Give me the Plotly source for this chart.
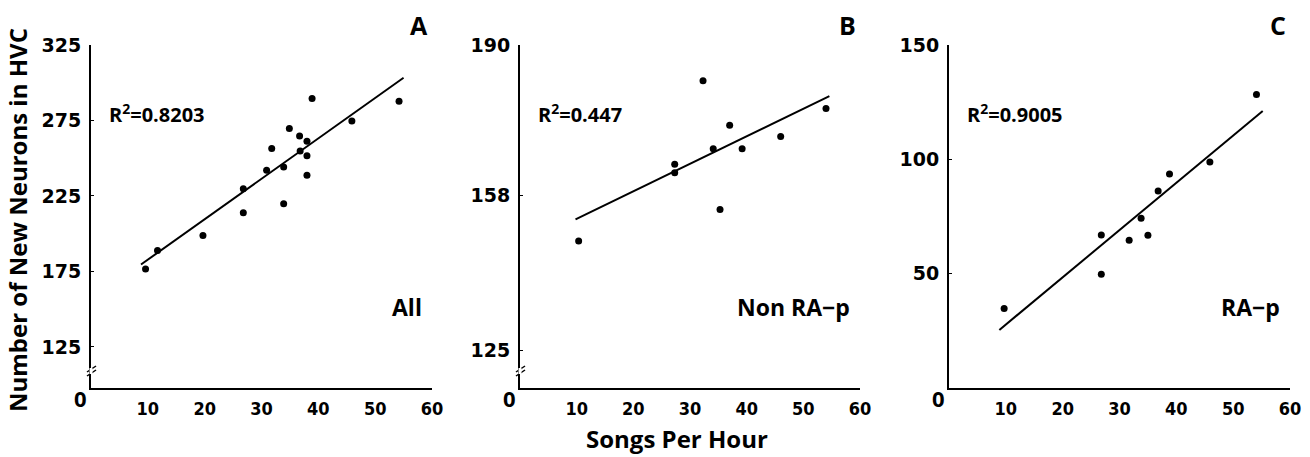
import plotly.graph_objects as go

W, H = 1310, 457

# ---------------- data ----------------
songs_all = [9.6, 11.7, 19.7, 26.8, 26.8, 30.9, 31.8, 33.9, 33.9, 34.9, 36.7, 36.8, 38.0, 38.0, 38.0, 38.9, 45.9, 54.2]
neurons_all = [176.7, 188.9, 198.8, 229.8, 213.9, 242.0, 256.4, 244.2, 219.9, 269.7, 264.8, 254.8, 261.3, 251.7, 238.7, 289.6, 274.7, 287.8]
fit_all_x = [8.8, 55.0]
fit_all_y = [179.6, 303.3]

songs_non = [10.35, 27.3, 27.3, 32.3, 34.1, 35.3, 37.0, 39.2, 46.0, 54.0]
neurons_non = [148.3, 164.6, 162.8, 182.4, 167.9, 155.0, 172.9, 167.9, 170.5, 176.5]
fit_non_x = [9.8, 54.6]
fit_non_y = [152.9, 179.1]

songs_rap = [9.7, 26.8, 26.8, 31.7, 33.8, 35.0, 36.8, 38.8, 45.9, 54.1]
neurons_rap = [34.8, 66.9, 49.7, 64.6, 74.2, 66.8, 86.1, 93.6, 98.8, 128.3]
fit_rap_x = [8.86, 55.2]
fit_rap_y = [25.4, 121.1]

x_ticks = [10, 20, 30, 40, 50, 60]
y_ticks_a = [125, 175, 225, 275, 325]
y_ticks_b = [125, 158, 190]
y_ticks_c = [50, 100, 150]

panel_letters = ["A", "B", "C"]
r2_labels = ["0.8203", "0.447", "0.9005"]
group_labels = ["All", "Non RA\u2212p", "RA\u2212p"]

# ---------------- layout helpers ----------------
def px(x):
    return x / W

def py(y):
    return 1 - y / H

panels_px = [(91, 432), (520, 860), (949, 1290)]
y_top, y_bot = 45, 388
y_ranges = [[97.8, 325], [117.0, 190], [0, 150]]
y_tickvals = [y_ticks_a, y_ticks_b, y_ticks_c]

TICKFONT_X = dict(family="DejaVu Sans Condensed, Liberation Sans Narrow, sans-serif", size=18, color="black", weight="bold")
TICKFONT_Y = dict(family="DejaVu Sans, sans-serif", size=19, color="black", weight="bold")
LABFONT = dict(family="Open Sans, Noto Sans, sans-serif", color="black", weight="bold")

fig = go.Figure()
series = [
    (songs_all, neurons_all, fit_all_x, fit_all_y),
    (songs_non, neurons_non, fit_non_x, fit_non_y),
    (songs_rap, neurons_rap, fit_rap_x, fit_rap_y),
]
for i, (sx, sy, fx, fy) in enumerate(series):
    suffix = "" if i == 0 else str(i + 1)
    fig.add_trace(go.Scatter(x=fx, y=fy, mode="lines", line=dict(color="black", width=2),
                             xaxis="x" + suffix, yaxis="y" + suffix, showlegend=False, hoverinfo="skip"))
    fig.add_trace(go.Scatter(x=sx, y=sy, mode="markers", marker=dict(color="black", size=7),
                             xaxis="x" + suffix, yaxis="y" + suffix, showlegend=False))

layout = dict(
    width=W, height=H,
    margin=dict(l=0, r=0, t=0, b=0, pad=0),
    paper_bgcolor="white", plot_bgcolor="white",
    showlegend=False,
)
annotations = []
shapes = []
for i, (x0, x1) in enumerate(panels_px):
    suffix = "" if i == 0 else str(i + 1)
    layout["xaxis" + suffix] = dict(
        domain=[px(x0), px(x1)], range=[0, 60], anchor="y" + suffix,
        tickvals=x_ticks, ticks="", showgrid=False, zeroline=False,
        showline=True, linecolor="black", linewidth=2,
        tickfont=TICKFONT_X, ticklabelstandoff=3, automargin=False,
    )
    layout["yaxis" + suffix] = dict(
        domain=[py(y_bot), py(y_top)], range=y_ranges[i], anchor="x" + suffix,
        tickvals=y_tickvals[i], ticks="inside", ticklen=3, tickwidth=1, tickcolor="black",
        showgrid=False, zeroline=False,
        showline=True, linecolor="black", linewidth=2,
        tickfont=TICKFONT_Y, ticklabelstandoff=4, automargin=False,
    )
    # corner "0"
    annotations.append(dict(x=px(x0 - 11), y=py(398), xref="paper", yref="paper",
                            text="0", showarrow=False, font=dict(LABFONT, size=22),
                            xanchor="center", yanchor="middle"))
    # panel letter
    annotations.append(dict(x=px(x1 - 2), y=py(25), xref="paper", yref="paper",
                            text=panel_letters[i], showarrow=False, font=dict(LABFONT, size=25),
                            xanchor="right", yanchor="middle"))
    # R^2 text
    annotations.append(dict(x=px(x0 + 16), y=py(113), xref="paper", yref="paper",
                            text="R<sup>2</sup>=" + r2_labels[i], showarrow=False,
                            font=dict(LABFONT, size=20), xanchor="left", yanchor="middle"))
    # group label
    annotations.append(dict(x=px(x1 - 8), y=py(307), xref="paper", yref="paper",
                            text=group_labels[i], showarrow=False, font=dict(LABFONT, size=23),
                            xanchor="right", yanchor="middle"))
    # axis break marks
    if i < 2:
        for dy in (0, 4):
            shapes.append(dict(type="line", xref="paper", yref="paper",
                               x0=px(x0 - 4), y0=py(372 + dy), x1=px(x0 + 5), y1=py(366 + dy),
                               line=dict(color="black", width=1.5)))
        shapes.append(dict(type="rect", xref="paper", yref="paper",
                           x0=px(x0 - 1.5), y0=py(374), x1=px(x0 + 1.5), y1=py(368),
                           fillcolor="white", line=dict(width=0), layer="above"))

annotations.append(dict(x=px(17), y=py(220), xref="paper", yref="paper",
                        text="Number of New Neurons in HVC", showarrow=False, textangle=-90,
                        font=dict(LABFONT, size=24), xanchor="center", yanchor="middle"))
annotations.append(dict(x=px(677), y=py(438), xref="paper", yref="paper",
                        text="Songs Per Hour", showarrow=False,
                        font=dict(LABFONT, size=24), xanchor="center", yanchor="middle"))

layout["annotations"] = annotations
layout["shapes"] = shapes
fig.update_layout(**layout)
fig.write_html("out.html",
               config={"displayModeBar": False},
               post_script="document.body.style.margin='0';document.body.style.overflow='hidden';")
